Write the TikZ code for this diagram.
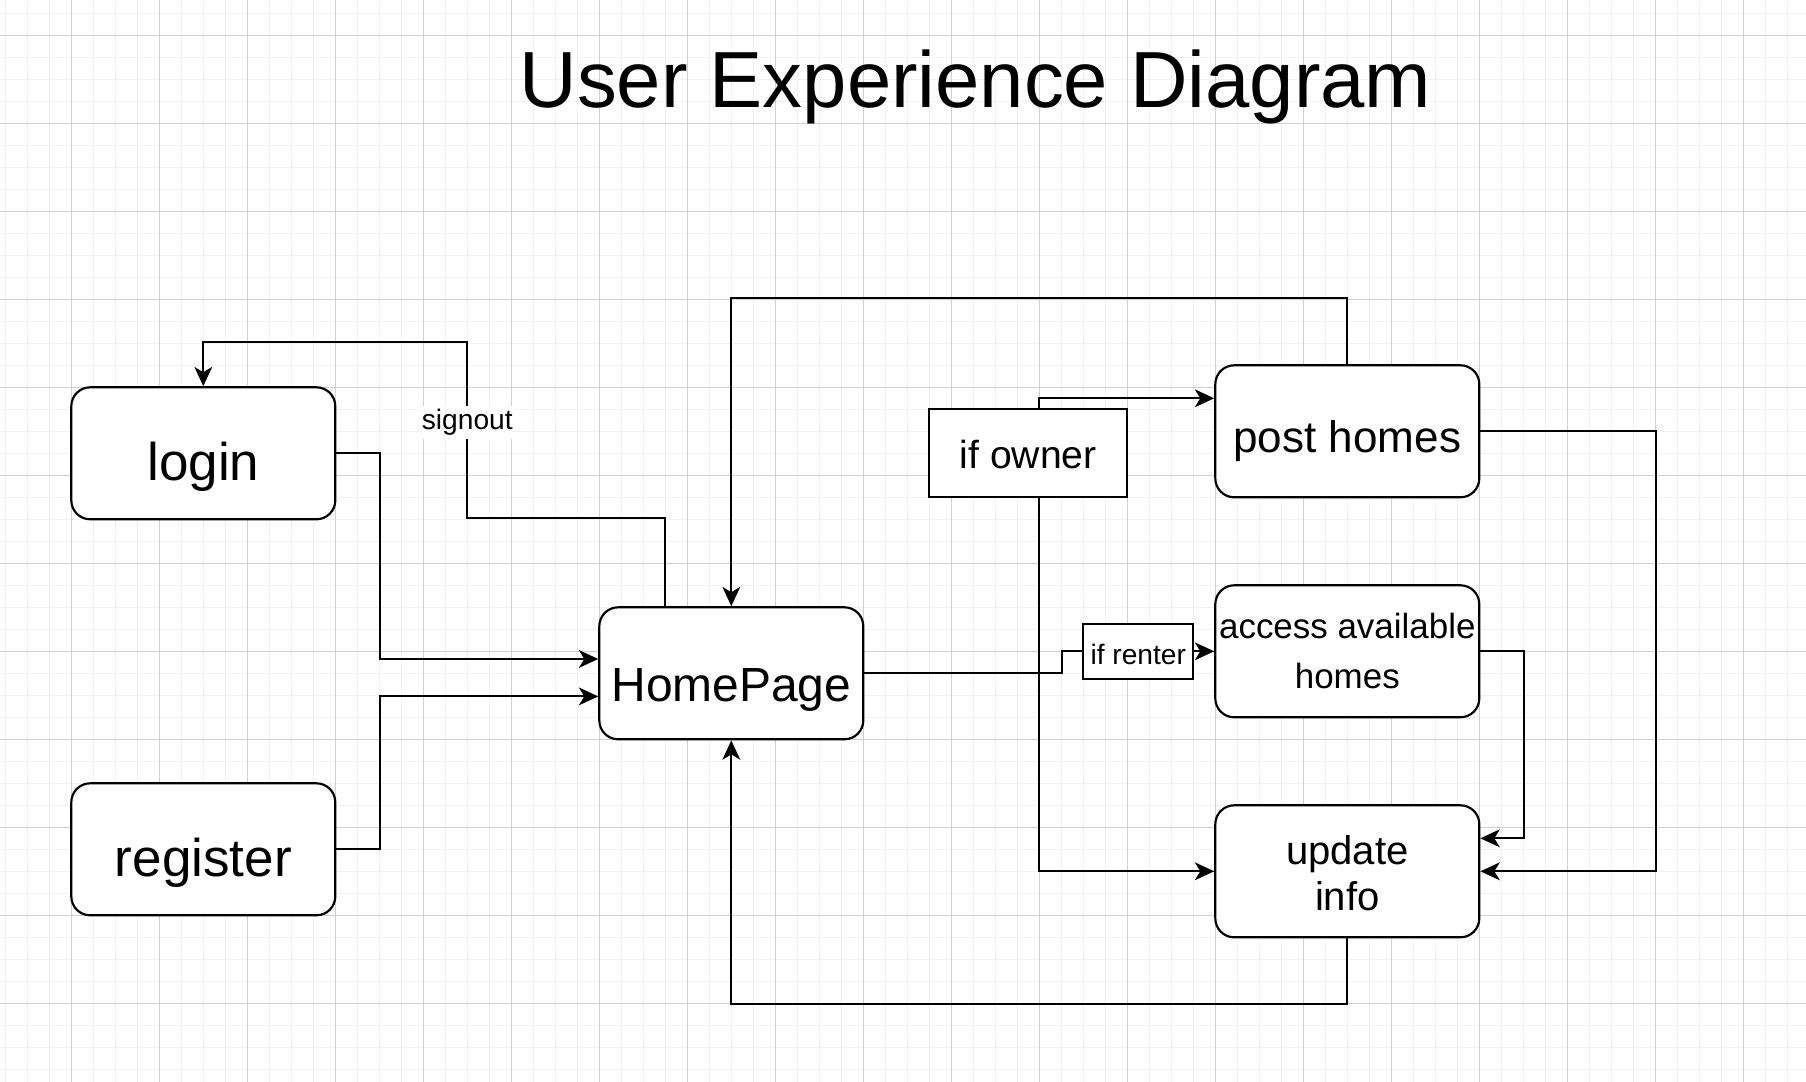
\documentclass[tikz,border=0pt]{standalone}
\usepackage{fontspec}
\setmainfont{Liberation Sans}
\usetikzlibrary{arrows.meta,calc}
\definecolor{gridlight}{RGB}{242,242,242}
\definecolor{griddark}{RGB}{208,208,208}

\begin{document}
\begin{tikzpicture}[x=0.5cm,y=-0.5cm,
  gridminor/.style={line width=1pt, draw=gridlight},
  gridmajor/.style={line width=0.7pt, draw=griddark},
  roundbox/.style={draw, line width=1.4pt, fill=white, rounded corners=0.43cm,
    minimum width=6cm, minimum height=3cm, inner sep=0pt},
  condbox/.style={draw, line width=1.4pt, fill=white, inner sep=0pt},
  flow/.style={draw, line width=1.3pt, -{Stealth[length=12.5pt,width=11.5pt,inset=3.5pt]}},
  plainline/.style={draw, line width=1.3pt},
  txt/.style={inner sep=0pt, anchor=base},
  ftitle/.style={txt, font=\fontsize{51.5pt}{62pt}\selectfont},
  fbig/.style={txt, font=\fontsize{34.3pt}{41pt}\selectfont},
  fhome/.style={txt, font=\fontsize{31pt}{37pt}\selectfont},
  fpost/.style={txt, font=\fontsize{28.5pt}{34pt}\selectfont},
  fupdate/.style={txt, font=\fontsize{25.9pt}{31pt}\selectfont},
  faccess/.style={txt, font=\fontsize{22.6pt}{27pt}\selectfont},
  fowner/.style={txt, font=\fontsize{25.3pt}{30pt}\selectfont},
  fsmall/.style={txt, font=\fontsize{18.2pt}{22pt}\selectfont},
]
% page frame
\useasboundingbox (-3.2409,-1.6045) rectangle (78.8500,47.5773);
\fill[white] (-3.2409,-1.6045) rectangle (78.8500,47.5773);

% background grid
\foreach \gx in {-3,...,78} \draw[gridminor] (\gx,-1.6045) -- (\gx,47.5773);
\foreach \gy in {-1,...,47} \draw[gridminor] (-3.2409,\gy) -- (78.8500,\gy);
\foreach \gx in {0,4,...,76} \draw[gridmajor] (\gx,-1.6045) -- (\gx,47.5773);
\foreach \gy in {0,4,...,44} \draw[gridmajor] (-3.2409,\gy) -- (78.8500,\gy);

% title
\node[ftitle] (title) at (41.1,3.27) {User Experience Diagram};

% boxes
\node[roundbox] (login) at (6,19) {};
\node[roundbox] (register) at (6,37) {};
\node[roundbox] (home) at (30,29) {};
\node[roundbox] (post) at (58,18) {};
\node[roundbox] (access) at (58,28) {};
\node[roundbox] (update) at (58,38) {};
\node[condbox, minimum width=4.5cm, minimum height=2cm] (ifowner) at (43.5,19) {};
\node[condbox, minimum width=2.5cm, minimum height=1.25cm] (ifrenter) at (48.5,28) {};

% box texts
\node[fbig] (logintext) at (6,20.25) {login};
\node[fbig] (registertext) at (6,38.25) {register};
\node[fhome] (hometext) at (30,30.26) {HomePage};
\node[fpost] (posttext) at (58,18.95) {post homes};
\node[faccess] (accesstexta) at (58,27.41) {access available};
\node[faccess] (accesstextb) at (58,29.68) {homes};
\node[fupdate] (updatetexta) at (58,37.67) {update};
\node[fupdate] (updatetextb) at (58,39.80) {info};
\node[fowner] (ownertext) at (43.5,19.68) {if owner};
\node[fsmall] (rentertext) at (48.5,28.62) {if renter};

% connectors
\draw[flow] (login.east) -- ++(2,0) |- ($(home.west)+(0,-0.65)$);
\draw[flow] (register.east) -- ++(2,0) |- ($(home.west)+(0,1.05)$);
\draw[flow] ($(home.north)+(-3,0)$) -- ++(0,-4) -- ++(-9,0) -- ++(0,-8) -| (login.north);
\draw[flow] (post.north) -- ++(0,-3) -| (home.north);
\draw[flow] (update.south) -- ++(0,3) -| (home.south);
\draw[plainline] (home.east) -- ++(9,0) -- ++(0,-1) -- (ifrenter.west);
\draw[flow] (ifrenter.east) -- (access.west);
\draw[flow] ($(ifowner.north)+(0.5,0)$) |- ($(post.west)+(0,-1.5)$);
\draw[flow] ($(ifowner.south)+(0.5,0)$) |- (update.west);
\draw[flow] (post.east) -- ++(8,0) |- (update.east);
\draw[flow] (access.east) -- ++(2,0) |- ($(update.east)+(0,-1.5)$);

% edge label
\node[fsmall, fill=white, inner xsep=0.5pt, inner ysep=2pt] (signout) at (18,17.94) {signout};
\end{tikzpicture}
\end{document}
